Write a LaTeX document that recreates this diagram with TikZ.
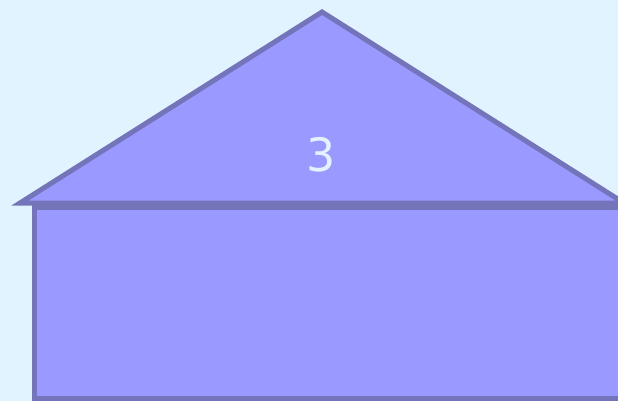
\documentclass[tikz,border=0pt]{standalone}
\usepackage{fontspec}
\setmainfont{DejaVu Sans}
\definecolor{bg}{HTML}{E0F3FF}
\definecolor{shapefill}{HTML}{9999FF}
\definecolor{shapeline}{HTML}{7474BA}
\definecolor{labeltxt}{HTML}{E4F2FF}
\begin{document}
\begin{tikzpicture}[x=1pt,y=-1pt,
  part/.style={fill=shapefill,draw=shapeline,line width=5pt,line join=miter},
  lbl/.style={text=labeltxt,font=\fontsize{46}{46}\selectfont,inner sep=0pt}]
\fill[bg] (0,0) rectangle (618,401);
\useasboundingbox (0,0) rectangle (618,401);
\begin{scope}
\clip (0,0) rectangle (618,401);
\draw[part] (20,203) -- (322,12) -- (624,203) -- cycle;
\draw[part] (34,207) rectangle (650,398.5);
\end{scope}
\node[lbl] (roof) at (321,155) {3};
\end{tikzpicture}
\end{document}
